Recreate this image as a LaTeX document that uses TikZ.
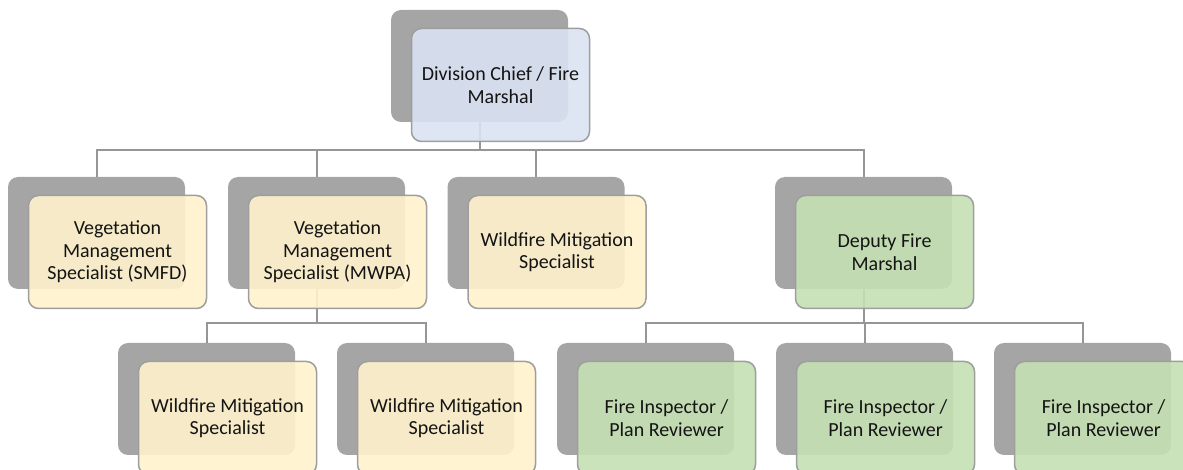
\documentclass[tikz,border=0pt]{standalone}
\usepackage{fontspec}
\setmainfont{Carlito}
\newlength{\du}
\setlength{\du}{0.75pt}
\definecolor{backgray}{RGB}{165,165,165}
\definecolor{framegray}{RGB}{158,158,158}
\definecolor{linegray}{RGB}{150,150,150}
\definecolor{chiefblue}{RGB}{218,227,243}
\definecolor{vegyellow}{RGB}{255,242,204}
\definecolor{deputygreen}{RGB}{197,224,180}
\tikzset{
  backbox/.style={fill=backgray, rounded corners=10\du, minimum width=177\du, minimum height=112\du, inner sep=0pt},
  frontbox/.style={draw=framegray, line width=1.5\du, fill opacity=0.9, text opacity=1, rounded corners=10\du, minimum width=178\du, minimum height=113\du, inner sep=0pt, align=center, text=black!92, font=\fontsize{15}{16.8}\selectfont},
  conn/.style={draw=linegray, line width=2\du},
}

\begin{document}
\begin{tikzpicture}
\pgftransformxscale{1.000000}
\pgftransformyscale{-1.000000}
\path[use as bounding box] (0\du,0\du) rectangle (1183\du,470\du);
\clip (0\du,0\du) rectangle (1183\du,470\du);
% back boxes
\node[backbox] (chief) at (479.5\du,66\du) {};
\node[backbox] (vegsmfd) at (96.5\du,233\du) {};
\node[backbox] (vegmwpa) at (316.5\du,233\du) {};
\node[backbox] (wildfire) at (536\du,233\du) {};
\node[backbox] (deputy) at (863.5\du,233\du) {};
\node[backbox] (wildfirea) at (206.5\du,399\du) {};
\node[backbox] (wildfireb) at (425.5\du,399\du) {};
\node[backbox] (inspa) at (645.5\du,399\du) {};
\node[backbox] (inspb) at (864.5\du,399\du) {};
\node[backbox] (inspc) at (1082.5\du,399\du) {};
% connectors
\coordinate (busone) at (479.5\du,150\du);
\coordinate (bustwo) at (316.5\du,323\du);
\coordinate (busthree) at (863.5\du,323\du);
\draw[conn] (chief.south) -- (busone);
\draw[conn] (busone) -| (vegsmfd.north);
\draw[conn] (busone) -| (vegmwpa.north);
\draw[conn] (busone) -| (wildfire.north);
\draw[conn] (busone) -| (deputy.north);
\draw[conn] (vegmwpa.south) -- (bustwo);
\draw[conn] (bustwo) -| (wildfirea.north);
\draw[conn] (bustwo) -| (wildfireb.north);
\draw[conn] (deputy.south) -- (busthree);
\draw[conn] (busthree) -| (inspa.north);
\draw[conn] (busthree) -| (inspb.north);
\draw[conn] (busthree) -| (inspc.north);
% front boxes
\node[frontbox, fill=chiefblue] (chief-f) at (500.5\du,85\du) {Division Chief / Fire\\Marshal};
\node[frontbox, fill=vegyellow] (vegsmfd-f) at (117.5\du,252\du) {Vegetation\\Management\\Specialist (SMFD)};
\node[frontbox, fill=vegyellow] (vegmwpa-f) at (337.5\du,252\du) {Vegetation\\Management\\Specialist (MWPA)};
\node[frontbox, fill=vegyellow] (wildfire-f) at (557\du,252\du) {Wildfire Mitigation\\Specialist};
\node[frontbox, fill=deputygreen] (deputy-f) at (884.5\du,252\du) {Deputy Fire\\Marshal};
\node[frontbox, fill=vegyellow] (wildfirea-f) at (227.5\du,418\du) {Wildfire Mitigation\\Specialist};
\node[frontbox, fill=vegyellow] (wildfireb-f) at (446.5\du,418\du) {Wildfire Mitigation\\Specialist};
\node[frontbox, fill=deputygreen] (inspa-f) at (666.5\du,418\du) {Fire Inspector /\\Plan Reviewer};
\node[frontbox, fill=deputygreen] (inspb-f) at (885.5\du,418\du) {Fire Inspector /\\Plan Reviewer};
\node[frontbox, fill=deputygreen] (inspc-f) at (1103.5\du,418\du) {Fire Inspector /\\Plan Reviewer};
\end{tikzpicture}
\end{document}
